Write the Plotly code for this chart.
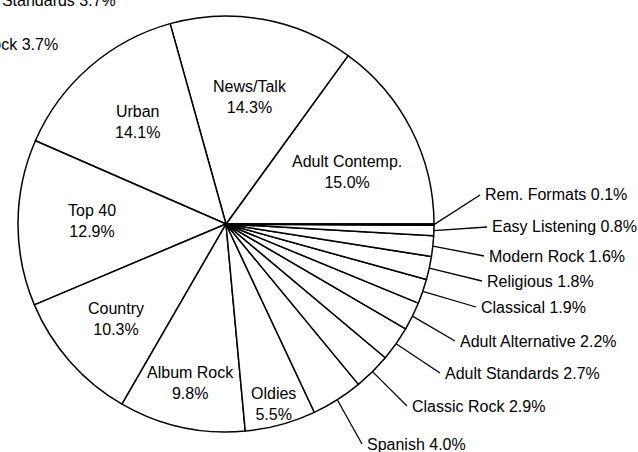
import math
import plotly.graph_objects as go

# ---- data ----
formats = ["Adult Contemp.", "News/Talk", "Urban", "Top 40", "Country", "Album Rock",
           "Oldies", "Spanish", "Classic Rock", "Adult Standards", "Adult Alternative",
           "Classical", "Religious", "Modern Rock", "Easy Listening", "Rem. Formats"]
shares = [15.0, 14.3, 14.1, 12.9, 10.3, 9.8, 5.5, 4.0, 2.9, 2.7, 2.2, 1.9, 1.8, 1.6, 0.8, 0.1]
n_inside = 7  # first seven slices labelled inside the pie

# label positions (pixels) for inside labels: centre of text block
inside_pos = [(347, 172), (250, 97), (137, 122), (92, 221), (116, 319), (190, 383), (273, 404)]
# label positions (pixels) for outside labels: left edge, vertical centre
outside_pos = {"Spanish": (365, 444), "Classic Rock": (410, 406), "Adult Standards": (443, 373),
               "Adult Alternative": (458, 341), "Classical": (479, 307), "Religious": (485, 281),
               "Modern Rock": (487, 256), "Easy Listening": (490, 227), "Rem. Formats": (483, 195)}

# stray labels from a neighbouring chart, clipped at the page edge (right edge, centre)
stray_labels = [("Adult Standards 3.7%", 118, 1), ("Album Rock 3.7%", 60, 45)]

W, H = 638, 452
CX, CY, R = 226, 224, 208
FONT = dict(family="Liberation Sans, Arial, sans-serif", size=16, color="black")


def px(x):
    return x / W


def py(y):
    return 1 - y / H


total = sum(shares)
# plotly puts the END of the first slice at `rotation` when counterclockwise,
# so shift to make the first slice start at 3 o'clock
rotation = 90 - shares[0] / total * 360

fig = go.Figure(go.Pie(
    labels=formats, values=shares, sort=False, direction="counterclockwise", rotation=rotation,
    textinfo="none", hoverinfo="label+percent",
    marker=dict(colors=["white"] * len(formats), line=dict(color="black", width=1.5)),
    domain=dict(x=[px(CX - R), px(CX + R)], y=[py(CY + R), py(CY - R)]),
    showlegend=False,
))

annotations = []
shapes = []
cum = 0.0
for i, (name, v) in enumerate(zip(formats, shares)):
    start = cum
    cum += v
    mid = (start + cum) / 2 / total * 2 * math.pi  # counter-clockwise from 3 o'clock
    if i < n_inside:
        x, y = inside_pos[i]
        annotations.append(dict(x=px(x), y=py(y), xref="paper", yref="paper",
                                text=f"{name}<br>{v:.1f}%",
                                showarrow=False, font=FONT, align="center",
                                xanchor="center", yanchor="middle"))
    else:
        x, y = outside_pos[name]
        ex = CX + R * math.cos(mid)
        ey = CY - R * math.sin(mid)
        shapes.append(dict(type="line", xref="paper", yref="paper",
                           x0=px(ex), y0=py(ey), x1=px(x - 3), y1=py(y),
                           line=dict(color="black", width=1.3)))
        annotations.append(dict(x=px(x), y=py(y), xref="paper", yref="paper",
                                text=f"{name} {v:.1f}%",
                                showarrow=False, font=FONT, xanchor="left", yanchor="middle"))

for text, x, y in stray_labels:
    annotations.append(dict(x=px(x), y=py(y), xref="paper", yref="paper", text=text,
                            showarrow=False, font=FONT, xanchor="right", yanchor="middle"))

fig.update_layout(width=W, height=H, margin=dict(l=0, r=0, t=0, b=0),
                  paper_bgcolor="white", plot_bgcolor="white",
                  annotations=annotations, shapes=shapes)
fig.write_html("out.html")
